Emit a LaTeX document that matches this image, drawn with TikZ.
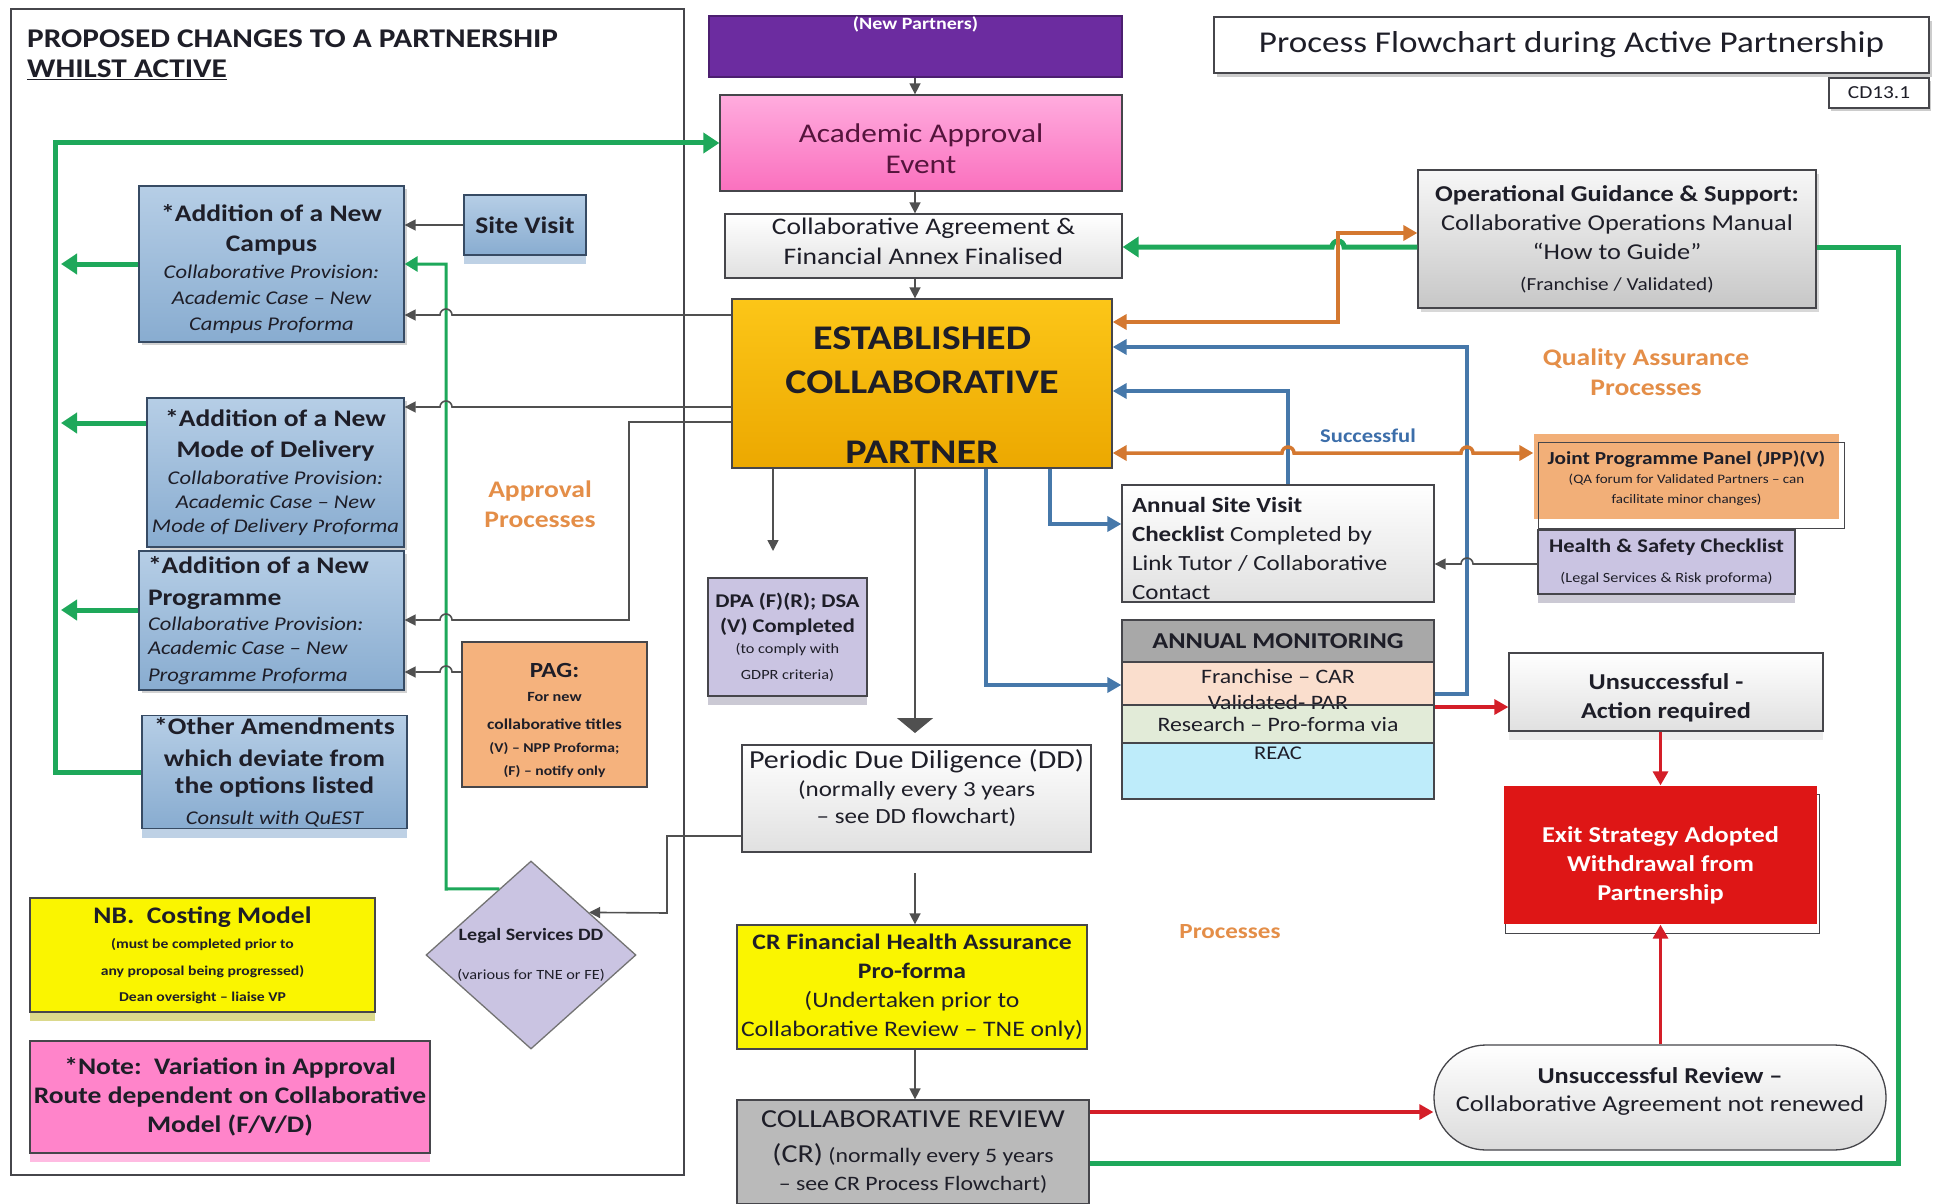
\documentclass[tikz,border=0pt]{standalone}
\usepackage{fontspec}
\setmainfont{Carlito}[Scale=1.08, FakeStretch=1.16]
\usetikzlibrary{positioning,calc,arrows.meta,shapes.geometric,shadows,backgrounds}

\definecolor{inktxt}{RGB}{30,30,40}
\definecolor{edgegray}{RGB}{70,70,75}
\definecolor{purpfill}{RGB}{108,44,160}
\definecolor{pinktop}{RGB}{255,172,222}
\definecolor{pinkbot}{RGB}{250,112,190}
\definecolor{acadtxt}{RGB}{85,20,60}
\definecolor{goldtop}{RGB}{252,198,24}
\definecolor{goldbot}{RGB}{236,168,0}
\definecolor{bluetop}{RGB}{182,206,230}
\definecolor{bluebot}{RGB}{136,172,208}
\definecolor{blueedge}{RGB}{55,75,100}
\definecolor{pagfill}{RGB}{245,178,125}
\definecolor{jppfill}{RGB}{242,175,120}
\definecolor{lavfill}{RGB}{202,196,226}
\definecolor{yelfill}{RGB}{250,245,0}
\definecolor{notepink}{RGB}{255,132,202}
\definecolor{exitred}{RGB}{222,22,22}
\definecolor{crgray}{RGB}{186,186,186}
\definecolor{amhead}{RGB}{168,168,168}
\definecolor{ampeach}{RGB}{250,222,205}
\definecolor{amsage}{RGB}{226,235,216}
\definecolor{amcyan}{RGB}{190,236,250}
\definecolor{lnGreen}{RGB}{30,168,90}
\definecolor{lnOrange}{RGB}{212,120,48}
\definecolor{lnBlue}{RGB}{70,120,170}
\definecolor{lnRed}{RGB}{212,30,40}
\definecolor{lnGray}{RGB}{80,80,80}
\definecolor{lblOrange}{RGB}{228,142,72}
\definecolor{lblBlue}{RGB}{60,110,170}
\newcommand{\fsz}[2]{\fontsize{#1}{#2}\selectfont}

\begin{document}
\begin{tikzpicture}[x=1pt, y=-1pt,
  box/.style     = {draw=edgegray, line width=1.3pt, inner sep=2pt,
                    align=center, text=inktxt},
  bluebox/.style = {box, draw=blueedge, top color=bluetop, bottom color=bluebot,
                    drop shadow={shadow xshift=3pt, shadow yshift=-3pt, opacity=.35}},
  palebox/.style = {box, top color=white, bottom color=black!12},
  strip/.style   = {general shadow={shadow yshift=-9pt, fill=#1}},
  darr/.style    = {-{Triangle[length=11pt,width=11pt]}, line width=1.6pt, draw=lnGray},
  gthick/.style  = {line width=5pt, draw=lnGreen},
  garr/.style    = {gthick, -{Triangle[length=16pt,width=20pt]}},
  gthin/.style   = {line width=3pt, draw=lnGreen, -{Triangle[length=13pt,width=15pt]}},
  oarr/.style    = {{Triangle[length=14pt,width=15pt]}-{Triangle[length=14pt,width=15pt]},
                    line width=3.5pt, draw=lnOrange},
  barr/.style    = {-{Triangle[length=14pt,width=15pt]}, line width=4pt, draw=lnBlue},
  rarr/.style    = {-{Triangle[length=14pt,width=15pt]}, line width=3.2pt, draw=lnRed},
  qlabel/.style  = {text=lblOrange, font=\bfseries\fsz{22}{30}, align=center},
]
\begin{scope}[on background layer]
  \fill[white] (0,0) rectangle (1933,1204);
\end{scope}
\useasboundingbox (0,0) rectangle (1933,1204);

% left panel
\node[draw=edgegray, line width=1.3pt, minimum width=673pt, minimum height=1166pt] (panel) at (347.5,592) {};
\node[anchor=north west, align=left, inner sep=0pt, text=inktxt,
      font=\bfseries\fsz{25}{30}] (ptitle) at (27,30)
     {PROPOSED CHANGES TO A PARTNERSHIP\\\underline{WHILST ACTIVE}};

\node[bluebox, font=\fsz{18}{26}, minimum width=265pt, minimum height=156pt] (campus) at (271.5,264)
     {{\bfseries\fsz{22}{26}\rule{0pt}{27pt}*Addition of a New}\\[4pt]{\bfseries\fsz{22}{26}Campus}\\[1pt]
      {\itshape Collaborative Provision:}\\{\itshape Academic Case – New}\\
      {\itshape Campus Proforma}};
\node[box, draw=blueedge, top color=bluetop, bottom color=bluebot, strip=bluebot!55,
      font=\bfseries\fsz{22}{26}, minimum width=122pt, minimum height=60pt] (sitev) at (525,225) {Site Visit};
\node[bluebox, font=\fsz{18}{24}, minimum width=257pt, minimum height=149pt] (mode) at (275.5,472.5)
     {{\bfseries\fsz{22}{24}*Addition of a New}\\[7pt]{\bfseries\fsz{22}{24}Mode of Delivery}\\[3pt]
      {\itshape Collaborative Provision:}\\{\itshape Academic Case – New}\\
      {\itshape Mode of Delivery Proforma}};
\node[bluebox, align=flush left, text width=247pt, font=\fsz{18}{25},
      minimum width=265pt, minimum height=139pt] (prog) at (271.5,620.5)
     {{\bfseries\fsz{22}{25}*Addition of a New}\\[7pt]{\bfseries\fsz{22}{25}Programme}\\
      {\itshape Collaborative Provision:}\\[-1pt]{\itshape Academic Case – New}\\[2pt]
      {\itshape Programme Proforma}};
\node[box, draw=blueedge, top color=bluetop, bottom color=bluebot, strip=bluebot!55, font=\fsz{22}{29},
      minimum width=265pt, minimum height=112pt] (other) at (274.5,772)
     {{\bfseries *Other Amendments}\\[3pt]{\bfseries which deviate from}\\[-2pt]
      {\bfseries the options listed}\\[2pt]{\itshape\fsz{18}{29}Consult with QuEST}};
\node[box, fill=pagfill, font=\bfseries\fsz{12.5}{23}, minimum width=185pt, minimum height=145pt] (pag) at (554.5,714.5)
     {{\fsz{20}{23}\rule{0pt}{27pt}PAG:}\\[1pt]{\fsz{13}{23}For new}\\[5pt]{\fsz{14}{23}collaborative titles}\\
      (V) – NPP Proforma;\\(F) – notify only};
\node[qlabel] (applbl) at (540,504) {Approval\\Processes};

\node[box, fill=yelfill, strip=yelfill!70!black!45, font=\bfseries\fsz{12.5}{26},
      minimum width=345pt, minimum height=114pt] (nb) at (202.5,955)
     {{\fsz{22}{26}NB.\ \ Costing Model}\\[-1pt](must be completed prior to\\[1pt]
      any proposal being progressed)\\Dean oversight – liaise VP};
\node[box, fill=notepink, strip=notepink!55, font=\bfseries\fsz{22}{29},
      minimum width=400pt, minimum height=112pt] (note) at (230,1097)
     {*Note:\ \ Variation in Approval\\Route dependent on Collaborative\\Model (F/V/D)};
\node[diamond, aspect=1.12, draw=black!55, line width=1.3pt, fill=lavfill, text=inktxt,
      inner sep=0pt, align=center, font=\fsz{13}{20}, minimum width=210pt, minimum height=188pt] (legal) at (531,955)
     {{\bfseries\fsz{16}{20}Legal Services DD}\\[19pt](various for TNE or FE)};

% centre column
\node[box, fill=purpfill, draw=purpfill!70!black, minimum width=413pt, minimum height=61pt,
      label={[anchor=north, inner sep=1pt, text=white, font=\bfseries\fsz{16}{18}]north:{(New Partners)}}]
     (newp) at (915.5,46.5) {};
\node[box, top color=pinktop, bottom color=pinkbot, text=acadtxt, font=\fsz{25}{31},
      minimum width=402pt, minimum height=96pt] (acad) at (921,143) {\rule{0pt}{31pt}Academic Approval\\Event};
\node[palebox, font=\fsz{22}{30}, text depth=10pt, minimum width=397pt, minimum height=64pt] (collab) at (923.5,246)
     {Collaborative Agreement \&\\Financial Annex Finalised};
\node[box, top color=goldtop, bottom color=goldbot, font=\bfseries\fsz{32}{44},
      minimum width=380pt, minimum height=169pt] (est) at (922,383.5)
     {\rule{0pt}{46pt}ESTABLISHED\\COLLABORATIVE\\[26pt]PARTNER};
\node[box, fill=lavfill, strip=lavfill!75!black!50, font=\fsz{18}{24},
      minimum width=159pt, minimum height=118pt] (dpa) at (787.5,637)
     {\textbf{DPA (F)(R); DSA}\\[1pt]\textbf{(V) Completed}\\[-3pt]{\fsz{13}{24}(to comply with}\\[2pt]{\fsz{13}{24}GDPR criteria)}};
\node[palebox, font=\fsz{20}{27}, text depth=23pt, minimum width=349pt, minimum height=107pt] (dd) at (916.5,798.5)
     {{\fsz{24}{27}Periodic Due Diligence (DD)}\\[1pt](normally every 3 years\\– see DD flowchart)};
\node[box, fill=yelfill, font=\fsz{20.5}{29}, minimum width=350pt, minimum height=124pt] (crf) at (912,987)
     {\textbf{CR Financial Health Assurance}\\\textbf{Pro-forma}\\(Undertaken prior to\\Collaborative Review – TNE only)};
\node[box, fill=crgray, font=\fsz{19}{28}, minimum width=352pt, minimum height=104pt] (cr) at (913,1152)
     {{\fsz{24}{28}COLLABORATIVE REVIEW}\\[7pt]{\fsz{24}{28}(CR)} (normally every 5 years\\– see CR Process Flowchart)};
\node[qlabel, font=\bfseries\fsz{20}{24}] (proclbl) at (1230,932) {Processes};

% right column
\node[box, fill=white, drop shadow={shadow xshift=3pt, shadow yshift=-4pt, opacity=.4},
      font=\fsz{28}{32}, minimum width=715pt, minimum height=56pt] (ftitle) at (1571.5,45)
     {Process Flowchart during Active Partnership};
\node[box, fill=white, drop shadow={shadow xshift=2pt, shadow yshift=-3pt, opacity=.4},
      font=\fsz{17}{20}, minimum width=100pt, minimum height=30pt] (cdref) at (1879,93) {CD13.1};
\node[box, top color=black!3, bottom color=black!22,
      drop shadow={shadow xshift=3pt, shadow yshift=-4pt, opacity=.3},
      font=\fsz{21}{29}, minimum width=398pt, minimum height=138pt] (opg) at (1617,239)
     {\textbf{Operational Guidance \& Support:}\\Collaborative Operations Manual\\“How to Guide”\\[2pt]{\fsz{17}{29}(Franchise / Validated)}};
\node[qlabel] (qalbl) at (1646,372) {Quality Assurance\\Processes};
\node[box, draw=none, fill=jppfill, font=\fsz{12}{20}, minimum width=305pt, minimum height=85pt] (jpp) at (1686.5,476.5)
     {{\bfseries\fsz{17}{20}\rule{0pt}{18pt}Joint Programme Panel (JPP)(V)}\\[-1pt](QA forum for Validated Partners – can\\facilitate minor changes)};
\draw[edgegray, line width=1.3pt] ($(jpp.north west)+(5,9)$) rectangle ($(jpp.south east)+(5,9)$);
\node[box, fill=lavfill, strip=lavfill!75!black!50, font=\fsz{13}{22}, minimum width=257pt, minimum height=64pt] (hs) at (1666.5,562)
     {{\bfseries\fsz{18}{22}Health \& Safety Checklist}\\[8pt](Legal Services \& Risk proforma)};
\node[palebox, align=flush left, text width=292pt, font=\fsz{20}{29}, minimum width=312pt, minimum height=113pt] (asv) at (1278,543.5)
     {\rule{0pt}{26pt}\textbf{Annual Site Visit}\\\textbf{Checklist} Completed by\\Link Tutor / Collaborative\\Contact};
\node[box, fill=amhead, font=\bfseries\fsz{21}{26}, minimum width=312pt, minimum height=42pt] (amhd) at (1278,641) {ANNUAL MONITORING};
\node[box, fill=amcyan, minimum width=312pt, minimum height=56pt,
      label={[anchor=north, font=\fsz{18}{22}, text=inktxt, inner sep=4pt]north:REAC}] (amreac) at (1278,771) {};
\node[box, fill=amsage, font=\fsz{19}{24}, minimum width=312pt, minimum height=38pt] (amres) at (1278,724) {Research – Pro-forma via};
\node[box, fill=ampeach, minimum width=312pt, minimum height=43pt] (amfr) at (1278,683.5) {};
\node[text=inktxt, font=\fsz{19}{26}, align=center] (amtxt) at (1278,689) {Franchise – CAR\\Validated- PAR};
\draw[edgegray, line width=1.3pt] (amres.north west) -- (amres.north east);
\node[palebox, strip=black!7, font=\bfseries\fsz{21}{29}, minimum width=314pt, minimum height=78pt] (unsucc) at (1666,692)
     {\rule{0pt}{27pt}Unsuccessful -\\Action required};
\node[box, draw=none, fill=exitred, text=white, font=\bfseries\fsz{21}{29},
      minimum width=313pt, minimum height=138pt] (exit) at (1660.5,855)
     {\rule{0pt}{36pt}Exit Strategy Adopted\\Withdrawal from\\Partnership};
\begin{scope}[on background layer]
  \draw[edgegray, line width=1.3pt] ($(exit.north west)+(2,9)$) rectangle ($(exit.south east)+(2,9)$);
\end{scope}
\node[box, rounded corners=52pt, top color=white, bottom color=black!14, font=\fsz{21}{28},
      text depth=15pt, minimum width=452pt, minimum height=105pt] (review) at (1660,1097.5)
     {\textbf{Unsuccessful Review –}\\Collaborative Agreement not renewed};
\node[text=lblBlue, font=\bfseries\fsz{18}{22}] (succlbl) at (1368,436) {Successful};

\coordinate (gline) at (55,0);
\coordinate (gtip) at (61,0);
\coordinate (spine) at (915,0);
\coordinate (ddin) at (915,733);
\coordinate (ddout) at (915,873);
\coordinate (dpaend) at (773,551);

% green loops on the left
\draw[garr] (other.west) -- (other.west -| gline) -- (gline |- acad.west) -- (acad.west);
\draw[garr] (campus.west) -- (campus.west -| gtip);
\draw[garr] (mode.west |- 0,423) -- (gtip |- 0,423);
\draw[garr] (prog.west |- 0,610) -- (gtip |- 0,610);
\draw[gthin] ($(legal.north)!0.3!(legal.west)$) -- (446,889) -- (446,264) -- (campus.east);

% grey feeds into the proposals
\draw[darr] (sitev.west) -- (campus.east |- sitev.west);
\draw[darr] (est.west |- 0,315) -- (452,315) arc[start angle=0, end angle=180, radius=6pt] -- (campus.east |- 0,315);
\draw[darr] (est.west |- 0,407) -- (452,407) arc[start angle=0, end angle=180, radius=6pt] -- (mode.east |- 0,407);
\draw[darr] (est.west |- 0,422) -- (629,422) -- (629,620) -- (452,620)
            arc[start angle=0, end angle=180, radius=6pt] -- (prog.east |- 0,620);
\draw[darr] (pag.west |- 0,672) -- (452,672) arc[start angle=0, end angle=180, radius=6pt] -- (prog.east |- 0,672);
\draw[darr] (dd.west |- 0,836) -- (667,836) -- (667,913) -- ($(legal.north)!0.55!(legal.east)$);

% centre spine
\draw[darr] (newp.south -| spine) -- (acad.north -| spine);
\draw[darr] (acad.south -| spine) -- (collab.north -| spine);
\draw[darr] (collab.south -| spine) -- (est.north -| spine);
\draw[darr, -{Triangle[length=15pt,width=36pt]}] (est.south -| spine) -- (ddin);
\draw[darr] (ddout) -- (crf.north -| spine);
\draw[darr] (crf.south -| spine) -- (cr.north -| spine);
\draw[darr] (est.south -| dpaend) -- (dpaend);

% quality assurance links
\draw[garr] (opg.west |- 0,247) -- (1344,247) arc[start angle=0, end angle=180, radius=6pt] -- (collab.east |- 0,247);
\draw[oarr] (est.east |- 0,322) -- (1338,322) -- (1338,233) -- (opg.west |- 0,233);
\draw[barr] (amfr.east |- 0,694) -- (1467,694) -- (1467,347) -- (est.east |- 0,347);
\draw[barr] (asv.north -| 1288,0) -- (1288,391) -- (est.east |- 0,391);
\draw[oarr] (est.east |- 0,453) -- (1282,453) arc[start angle=180, end angle=0, radius=6pt]
            -- (1461,453) arc[start angle=180, end angle=0, radius=6pt] -- (jpp.west |- 0,453);
\draw[barr] (est.south -| 1050,0) -- (1050,524) -- (asv.west |- 0,524);
\draw[barr] (est.south -| 986,0) -- (986,685) -- (amfr.west |- 0,685);
\draw[darr] (hs.west |- 0,564) -- (1473,564) arc[start angle=0, end angle=180, radius=6pt] -- (asv.east |- 0,564);
\draw[rarr] (amfr.east |- 0,707) -- (unsucc.west |- 0,707);
\draw[rarr] (unsucc.south -| exit.north) -- (exit.north);
\draw[rarr] (review.north -| exit.south) -- (exit.south);
\draw[rarr] (cr.east |- 0,1112) -- (review.west |- 0,1112);
\draw[gthick] (opg.east |- 0,247) -- (1898,247) -- (1898,1163) -- (cr.east |- 0,1163);
\end{tikzpicture}
\end{document}
